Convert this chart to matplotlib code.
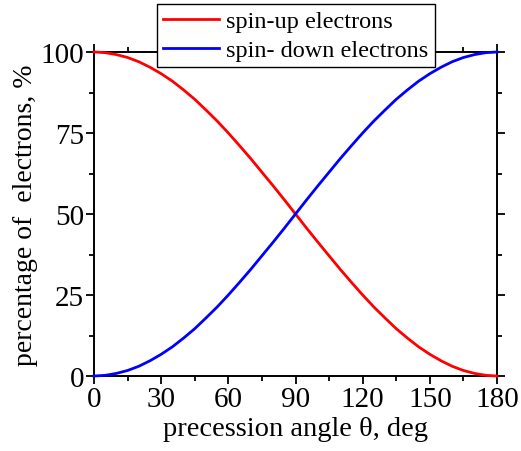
import matplotlib
matplotlib.use("Agg")
import matplotlib.pyplot as plt
from matplotlib.ticker import MultipleLocator

angle = [0, 5, 10, 15, 20, 25, 30, 35, 40, 45, 50, 55, 60, 65, 70, 75, 80, 85, 90,
         95, 100, 105, 110, 115, 120, 125, 130, 135, 140, 145, 150, 155, 160, 165, 170, 175, 180]
spin_up = [100, 99.8, 99.2, 98.3, 97.0, 95.3, 93.3, 91.0, 88.3, 85.4, 82.1, 78.7, 75.0, 71.1, 67.1, 62.9, 58.7, 54.4, 50.0,
           45.6, 41.3, 37.1, 32.9, 28.9, 25.0, 21.3, 17.9, 14.6, 11.7, 9.0, 6.7, 4.7, 3.0, 1.7, 0.8, 0.2, 0]
spin_down = [0, 0.2, 0.8, 1.7, 3.0, 4.7, 6.7, 9.0, 11.7, 14.6, 17.9, 21.3, 25.0, 28.9, 32.9, 37.1, 41.3, 45.6, 50.0,
             54.4, 58.7, 62.9, 67.1, 71.1, 75.0, 78.7, 82.1, 85.4, 88.3, 91.0, 93.3, 95.3, 97.0, 98.3, 99.2, 99.8, 100]
xticks = [0, 30, 60, 90, 120, 150, 180]
yticks = [0, 25, 50, 75, 100]

plt.rcParams['font.family'] = ['Liberation Serif', 'DejaVu Serif']

fig = plt.figure(figsize=(5.21, 4.52), dpi=100)
ax = fig.add_axes([94/521, 1-377/452, (497-94)/521, (377-53)/452])

ax.plot(angle, spin_up, color='#ff0000', lw=2.0, label='spin-up electrons', clip_on=False, zorder=3)
ax.plot(angle, spin_down, color='#0000ff', lw=2.0, label='spin- down electrons', clip_on=False, zorder=3)

ax.set_xlim(0, 180)
ax.set_ylim(0, 100)
ax.set_xticks(xticks)
ax.set_yticks(yticks)
ax.xaxis.set_minor_locator(MultipleLocator(15))
ax.yaxis.set_minor_locator(MultipleLocator(12.5))
ax.tick_params(which='both', direction='out', top=True, right=True, labeltop=False, labelright=False,
               width=1.3, color='black')
ax.tick_params(which='major', length=6, labelsize=21, pad=1)
ax.tick_params(which='minor', length=3.5)
for s in ax.spines.values():
    s.set_linewidth(1.4)

ax.set_xlabel('precession angle θ, deg', fontsize=20.5, labelpad=3)
ax.set_ylabel('percentage of  electrons, %', fontsize=20, labelpad=2)

leg = ax.legend(loc='upper center', bbox_to_anchor=(296/521, 1-5/452), bbox_transform=fig.transFigure,
                fontsize=17.5, frameon=True, fancybox=False, edgecolor='black', framealpha=1,
                handlelength=2.3, handletextpad=0.3, borderpad=0.25, labelspacing=0.3, borderaxespad=0)
leg.get_frame().set_linewidth(1.0)
leg.set_zorder(5)

fig.savefig('out.png', dpi=100)
